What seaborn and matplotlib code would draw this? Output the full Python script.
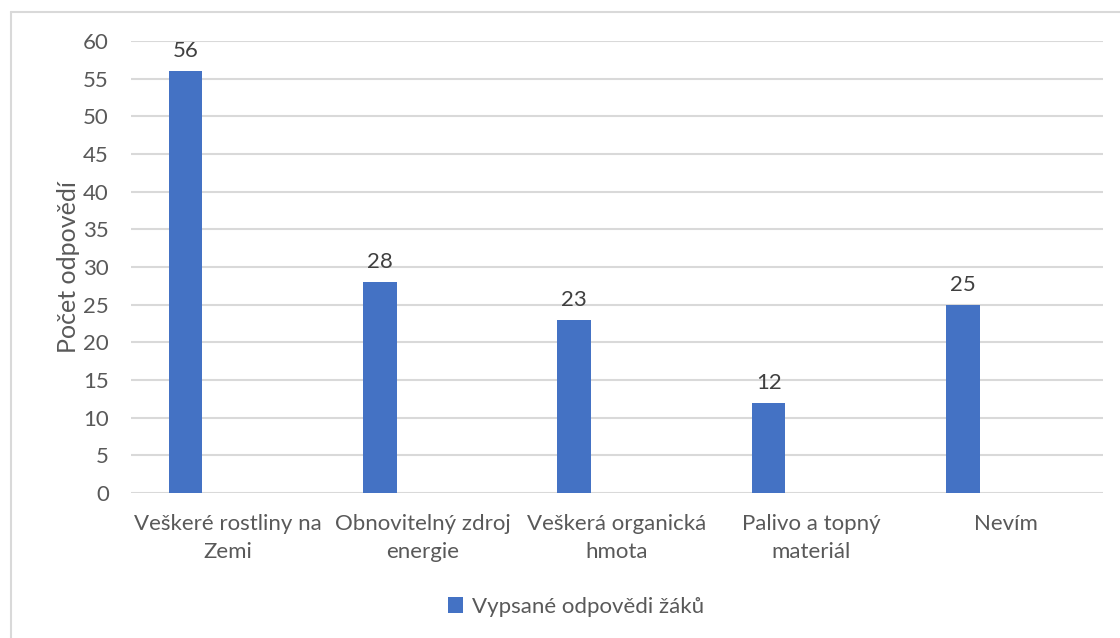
import matplotlib
matplotlib.use("Agg")
import matplotlib.pyplot as plt
import seaborn as sns
import pandas as pd
from matplotlib.patches import Patch
from matplotlib.lines import Line2D

categories = ["Veškeré rostliny na\nZemi", "Obnovitelný zdroj\nenergie", "Veškerá organická\nhmota",
              "Palivo a topný\nmateriál", "Nevím"]
values = [56, 28, 23, 12, 25]
series_name = "Vypsané odpovědi žáků"
y_label = "Počet odpovědí"
y_ticks = [0, 5, 10, 15, 20, 25, 30, 35, 40, 45, 50, 55, 60]

sns.set_theme(style="white")
plt.rcParams['font.family'] = ['Lato', 'DejaVu Sans']
text_color = "#595959"
bar_color = "#4472C4"
grid_color = "#d9d9d9"
fs = 16

df = pd.DataFrame({"cat": categories, "val": values})

fig = plt.figure(figsize=(11.2, 6.38), dpi=100)
ax = fig.add_axes([131 / 1120, 1 - 493 / 638, 972 / 1120, 452 / 638])

sns.barplot(data=df, x="cat", y="val", color=bar_color, width=0.173, ax=ax,
            saturation=1, zorder=3)
shift = -0.22
for p in ax.patches:
    p.set_x(p.get_x() + shift)
    p.set_edgecolor("none")

for p, v in zip(ax.patches, values):
    ax.annotate(str(v), (p.get_x() + p.get_width() / 2, v), xytext=(0, 7),
                textcoords="offset points", ha="center", va="bottom",
                fontsize=fs, color="#404040")

ax.set_xlim(-0.5, len(categories) - 0.5)
ax.set_ylim(0, 60)
ax.set_yticks(y_ticks)
ax.set_yticklabels([str(t) for t in y_ticks])
ax.yaxis.grid(True, color=grid_color, linewidth=1.5, zorder=0)
ax.xaxis.grid(False)
for s in ax.spines.values():
    s.set_visible(False)
ax.tick_params(axis="y", length=0, pad=16, labelsize=fs, labelcolor=text_color)
ax.tick_params(axis="x", length=0, pad=15, labelsize=fs, labelcolor=text_color)
for lbl in ax.get_xticklabels():
    lbl.set_linespacing(1.5)
    lbl.set_multialignment("center")
ax.set_xlabel("")
ax.set_ylabel(y_label, fontsize=18, color=text_color, labelpad=2)

handles = [Patch(facecolor=bar_color, edgecolor="none", label=series_name)]
fig.legend(handles=handles, loc="center", bbox_to_anchor=(576 / 1120, 1 - 607 / 638),
           frameon=False, fontsize=fs, labelcolor=text_color,
           handlelength=0.7, handleheight=0.7, handletextpad=0.4)

# outer chart frame
fig.add_artist(Line2D([11 / 1120, 1.0], [1 - 12 / 638, 1 - 12 / 638], transform=fig.transFigure,
                      color="#d9d9d9", linewidth=1.5))
fig.add_artist(Line2D([11 / 1120, 11 / 1120], [0.0, 1 - 12 / 638], transform=fig.transFigure,
                      color="#d9d9d9", linewidth=1.5))

fig.savefig("out.png", dpi=100, facecolor="white")
